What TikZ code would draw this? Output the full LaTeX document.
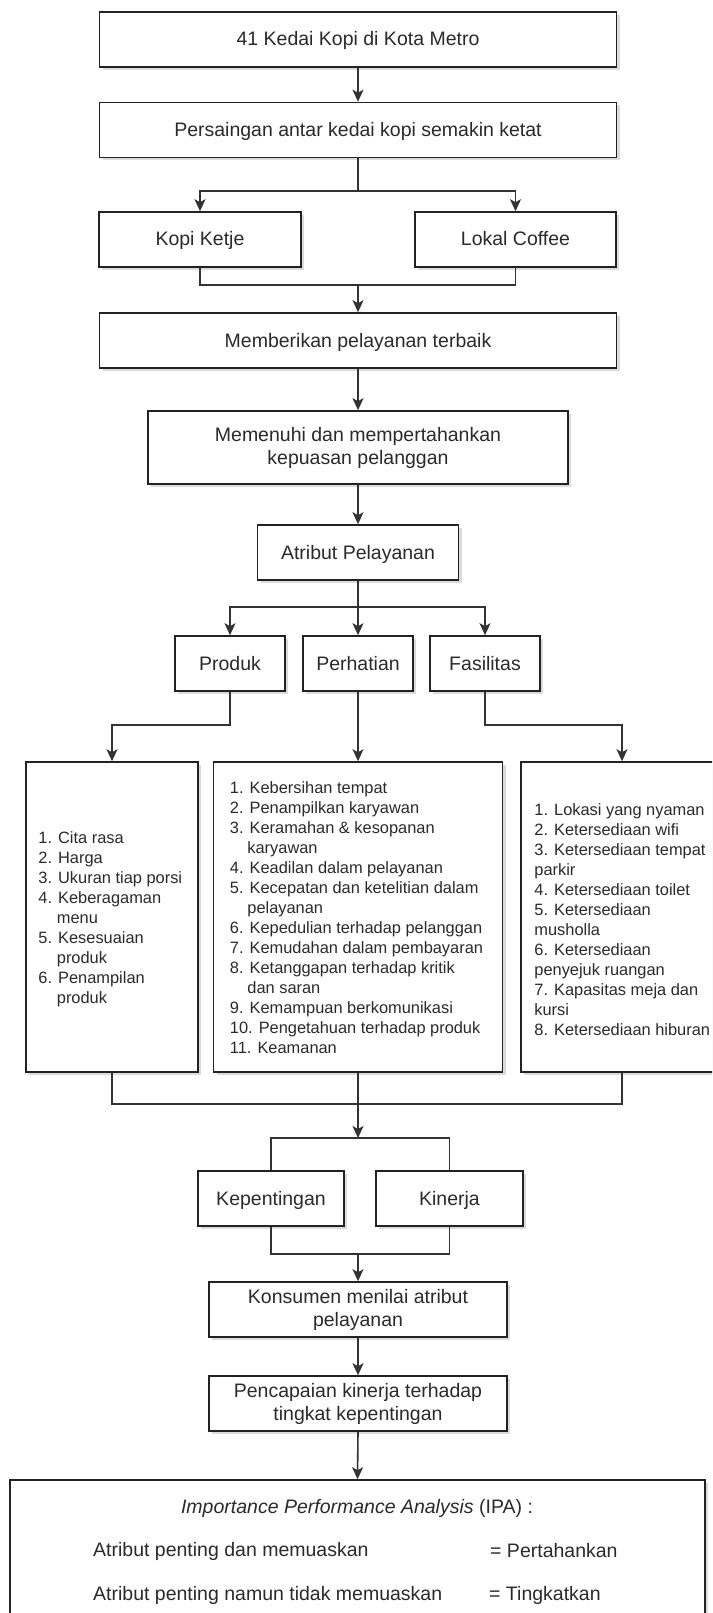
\documentclass[tikz,border=0pt]{standalone}
\usepackage{fontspec}
\setmainfont{Liberation Sans}
\usetikzlibrary{arrows.meta,shadows,calc}
\definecolor{ln}{HTML}{222222}
\definecolor{cn}{HTML}{333333}
\definecolor{tx}{HTML}{2A2A2A}
\tikzset{
  box/.style={draw=ln, line width=1.6pt, fill=white, inner sep=0pt, align=center,
    text=tx, font=\fontsize{19.5}{23}\selectfont,
    drop shadow={shadow xshift=3pt, shadow yshift=-3pt, opacity=0.14, fill=black}},
  one/.style={text height=14pt, text depth=1pt},
  lbox/.style={box},
  ltext/.style={inner sep=0pt, align=left, text=tx, font=\fontsize{16.4}{20}\selectfont, anchor=west},
  ptext/.style={inner sep=0pt, text=tx, font=\fontsize{19.5}{23}\selectfont},
  conn/.style={draw=cn, line width=1.6pt},
  arr/.style={conn, -{Stealth[length=12pt,width=11pt,inset=3pt]}}
}
\begin{document}
\begin{tikzpicture}[x=1pt,y=-1pt]
\useasboundingbox (0,0) rectangle (712,1613);
\clip (0,0) rectangle (712,1613);
\fill[white] (0,0) rectangle (712,1613);

% top chain
\node[box, one, minimum width=517pt, minimum height=55pt] (b1) at (358,39.5) {41 Kedai Kopi di Kota Metro};
\node[box, one, minimum width=517pt, minimum height=55pt] (b2) at (358,130) {Persaingan antar kedai kopi semakin ketat};
\node[box, one, minimum width=202pt, minimum height=55pt] (kk) at (200,239.5) {Kopi Ketje};
\node[box, one, minimum width=201pt, minimum height=55pt] (lo) at (515.5,239.5) {Lokal Coffee};
\node[box, one, minimum width=517pt, minimum height=55pt] (b3) at (358,340.5) {Memberikan pelayanan terbaik};
\node[box, minimum width=420pt, minimum height=73pt] (b4) at (358,447.5) {Memenuhi dan mempertahankan\\kepuasan pelanggan};
\node[box, one, minimum width=201pt, minimum height=55pt] (atr) at (358,552.5) {Atribut Pelayanan};
\node[box, one, minimum width=110pt, minimum height=55pt] (prod) at (230,663.5) {Produk};
\node[box, one, minimum width=110pt, minimum height=55pt] (perh) at (358,663.5) {Perhatian};
\node[box, one, minimum width=110pt, minimum height=55pt] (fas) at (485,663.5) {Fasilitas};

% list boxes
\node[lbox, minimum width=172pt, minimum height=310pt] (la) at (112,917) {};
\node[lbox, minimum width=289pt, minimum height=310pt] (lb) at (358,917) {};
\node[lbox, minimum width=202pt, minimum height=310pt] (lc) at (622,917) {};

\node[ltext] (ta) at ([xshift=13pt,yshift=-2pt]la.west) {1. Cita rasa\\2. Harga\\3. Ukuran tiap porsi\\4. Keberagaman\\\hspace*{18.5pt}menu\\5. Kesesuaian\\\hspace*{18.5pt}produk\\6. Penampilan\\\hspace*{18.5pt}produk};
\node[ltext] (tb) at ([xshift=17pt,yshift=-1pt]lb.west) {1. Kebersihan tempat\\2. Penampilkan karyawan\\3. Keramahan \& kesopanan\\\hspace*{17.5pt}karyawan\\4. Keadilan dalam pelayanan\\5. Kecepatan dan ketelitian dalam\\\hspace*{17.5pt}pelayanan\\6. Kepedulian terhadap pelanggan\\7. Kemudahan dalam pembayaran\\8. Ketanggapan terhadap kritik\\\hspace*{17.5pt}dan saran\\9. Kemampuan berkomunikasi\\10. Pengetahuan terhadap produk\\11. Keamanan};
\node[ltext] (tc) at ([xshift=14pt,yshift=-3pt]lc.west) {1. Lokasi yang nyaman\\2. Ketersediaan wifi\\3. Ketersediaan tempat\\parkir\\4. Ketersediaan toilet\\5. Ketersediaan\\musholla\\6. Ketersediaan\\penyejuk ruangan\\7. Kapasitas meja dan\\kursi\\8. Ketersediaan hiburan};

% lower chain
\node[box, one, minimum width=146pt, minimum height=55pt] (kep) at (271,1198.5) {Kepentingan};
\node[box, one, minimum width=147pt, minimum height=55pt] (kin) at (449.5,1198.5) {Kinerja};
\node[box, minimum width=298pt, minimum height=55pt] (kon) at (358,1309.5) {Konsumen menilai atribut\\pelayanan};
\node[box, minimum width=298pt, minimum height=55pt] (pen) at (358,1403.5) {Pencapaian kinerja terhadap\\tingkat kepentingan};
\node[box, minimum width=695pt, minimum height=280pt] (ipa) at (357.5,1620) {};

\node[ptext] (ipat) at (357,1508) {\textit{Importance Performance Analysis} (IPA) :};
\node[ptext, anchor=west] (r1a) at (93,1551) {Atribut penting dan memuaskan};
\node[ptext, anchor=west] (r1b) at (490,1551) {= Pertahankan};
\node[ptext, anchor=west] (r2a) at (93,1595) {Atribut penting namun tidak memuaskan};
\node[ptext, anchor=west] (r2b) at (489,1595) {= Tingkatkan};

% coordinates
\coordinate (s1) at (358,191);
\coordinate (m1) at (358,285);
\coordinate (s2) at (358,607);
\coordinate (pa) at (112,725);
\coordinate (pc) at (622,725);
\coordinate (m2) at (358,1104);
\coordinate (s3) at (358,1138);
\coordinate (m3) at (358,1254);

% connectors
\draw[arr] (b1.south) -- (b2.north);
\draw[conn] (b2.south) -- (s1);
\draw[arr] (s1) -| (kk.north);
\draw[arr] (s1) -| (lo.north);
\draw[conn] (kk.south) |- (m1) -| (lo.south);
\draw[arr] (m1) -- (b3.north);
\draw[arr] (b3.south) -- (b4.north);
\draw[arr] (b4.south) -- (atr.north);
\draw[conn] (atr.south) -- (s2);
\draw[arr] (s2) -| (prod.north);
\draw[arr] (s2) -- (perh.north);
\draw[arr] (s2) -| (fas.north);
\draw[arr] (prod.south) |- (pa) -- (la.north);
\draw[arr] (perh.south) -- (lb.north);
\draw[arr] (fas.south) |- (pc) -- (lc.north);
\draw[conn] (la.south) |- (m2) -| (lc.south);
\draw[conn] (lb.south) -- (m2);
\draw[arr] (m2) -- (s3);
\draw[conn] (kep.north) |- (s3) -| (kin.north);
\draw[conn] (kep.south) |- (m3) -| (kin.south);
\draw[arr] (m3) -- (kon.north);
\draw[arr] (kon.south) -- (pen.north);
\draw[arr] (pen.south) -- (ipa.north);
\end{tikzpicture}
\end{document}
